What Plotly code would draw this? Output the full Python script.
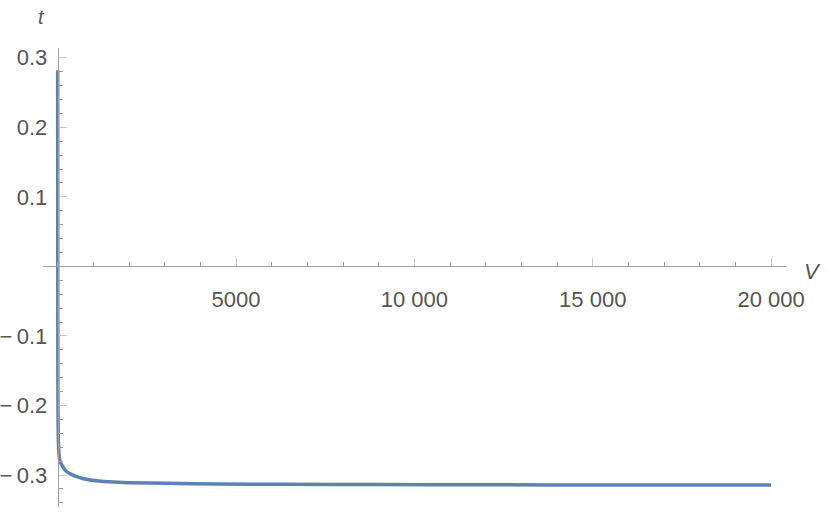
import plotly.graph_objects as go

# Data
V = [0, 0.5, 1, 2, 4, 8, 15, 25, 42, 70, 118, 180, 257, 380, 538, 700, 911,
     1150, 1424, 2000, 3050, 4500, 6500, 9000, 12000, 16000, 20000]
t = [0.282, 0.2, 0.12, 0.0, -0.12, -0.2, -0.24, -0.26, -0.274, -0.281, -0.2857,
     -0.291, -0.2953, -0.299, -0.3024, -0.305, -0.3072, -0.3085, -0.3096, -0.311,
     -0.312, -0.3128, -0.3134, -0.3138, -0.3141, -0.3143, -0.3145]

x_tickvals = [5000, 10000, 15000, 20000]
x_ticktext = ["5000", "10 000", "15 000", "20 000"]
y_tickvals = [-0.3, -0.2, -0.1, 0.1, 0.2, 0.3]
y_ticktext = ["\u2212\u20090.3", "\u2212\u20090.2", "\u2212\u20090.1", "0.1", "0.2", "0.3"]

x_range = [-412, 20446]
y_range = [-0.346, 0.314]

axis_color = "#a0a0a0"
label_color = "#555555"
font_family = "Liberation Sans, Arial, sans-serif"

fig = go.Figure()
fig.add_trace(go.Scatter(
    x=V, y=t, mode="lines",
    line=dict(color="#5E81B5", width=3.5, shape="spline", smoothing=0.6),
    showlegend=False, hoverinfo="skip",
))

xpos = (0 - y_range[0]) / (y_range[1] - y_range[0])
ypos = (0 - x_range[0]) / (x_range[1] - x_range[0])

fig.update_layout(
    width=830, height=512,
    margin=dict(l=43, r=43, t=48, b=5, autoexpand=False),
    paper_bgcolor="white", plot_bgcolor="white",
    font=dict(family=font_family, size=22, color=label_color),
    xaxis=dict(
        range=x_range, showgrid=False, zeroline=False, automargin=False,
        showline=True, linecolor=axis_color, linewidth=1,
        anchor="free", position=xpos, side="bottom",
        tickmode="array", tickvals=x_tickvals, ticktext=x_ticktext,
        ticks="inside", ticklen=8, tickcolor="#c8c8c8", tickwidth=1,
        ticklabelstandoff=13,
        minor=dict(tickmode="linear", tick0=0, dtick=1000, ticks="inside",
                   ticklen=4, tickcolor=axis_color, showgrid=False),
    ),
    yaxis=dict(
        range=y_range, showgrid=False, zeroline=False, automargin=False,
        showline=True, linecolor=axis_color, linewidth=1,
        anchor="free", position=ypos, side="left",
        tickmode="array", tickvals=y_tickvals, ticktext=y_ticktext,
        ticks="inside", ticklen=8, tickcolor="#c8c8c8", tickwidth=1,
        ticklabelstandoff=6,
        minor=dict(tickmode="linear", tick0=0, dtick=0.02, ticks="inside",
                   ticklen=4, tickcolor=axis_color, showgrid=False),
    ),
    annotations=[
        dict(text="<i>t</i>", xref="paper", yref="paper", x=ypos, y=1.0,
             xshift=-22, yshift=44, showarrow=False,
             font=dict(size=20, color=label_color, family=font_family)),
        dict(text="<i>V</i>", xref="paper", yref="paper", x=1.0, y=xpos,
             xshift=36, yshift=-5, showarrow=False,
             font=dict(size=22, color=label_color, family=font_family)),
    ],
)

fig.write_html(
    "out.html",
    config={"displayModeBar": False, "staticPlot": True},
    post_script="document.body.style.margin='0';document.body.style.overflow='hidden';",
)
